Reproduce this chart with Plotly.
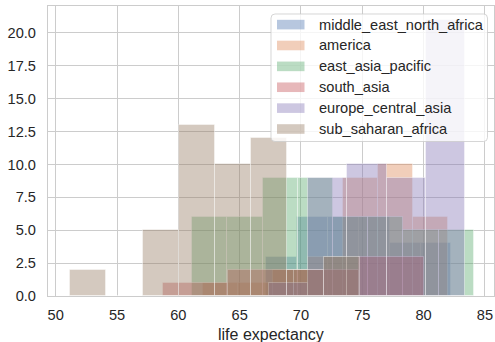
import numpy as np
import plotly.graph_objects as go

# Region names (legend order) and seaborn "deep" colours
regions = [
    "middle_east_north_africa",
    "america",
    "east_asia_pacific",
    "south_asia",
    "europe_central_asia",
    "sub_saharan_africa",
]
colors = ["#4C72B0", "#DD8452", "#55A868", "#C44E52", "#8172B3", "#937860"]

# Each region's histogram: (lowest, highest) life expectancy and the count in
# every equal-width bin between them
mena_range = (67.14, 82.27)
mena_counts = [3, 6, 6, 6, 4, 4]
america_range = (62.02, 82.0)
america_counts = [1, 1, 2, 3, 9, 10, 6]
eap_range = (61.13, 84.09)
eap_counts = [6, 6, 9, 9, 6, 6, 5, 5]
sa_range = (58.77, 80.04)
sa_counts = [1, 2, 2, 3]
eca_range = (67.36, 83.41)
eca_counts = [1, 9, 10, 9, 21]
ssa_range = (51.17, 74.81)
ssa_counts = [2, 0, 5, 13, 10, 12, 2, 3]

x_ticks = [50, 55, 60, 65, 70, 75, 80, 85]
y_ticks = [0.0, 2.5, 5.0, 7.5, 10.0, 12.5, 15.0, 17.5, 20.0]

hists = [
    (mena_range, mena_counts),
    (america_range, america_counts),
    (eap_range, eap_counts),
    (sa_range, sa_counts),
    (eca_range, eca_counts),
    (ssa_range, ssa_counts),
]

ALPHA = 0.4
TEXT = "#262626"
GRID = "#cccccc"
FONT = "Liberation Sans, Arial, sans-serif"


def rgba(hex_color, a):
    h = hex_color.lstrip("#")
    r, g, b = int(h[0:2], 16), int(h[2:4], 16), int(h[4:6], 16)
    return f"rgba({r},{g},{b},{a})"


fig = go.Figure()
for name, color, ((lo, hi), counts) in zip(regions, colors, hists):
    edges = np.linspace(lo, hi, len(counts) + 1)
    centers = (edges[:-1] + edges[1:]) / 2
    widths = np.diff(edges)
    fig.add_trace(
        go.Bar(
            x=centers,
            y=counts,
            width=widths,
            name=name,
            marker=dict(
                color=rgba(color, ALPHA),
                line=dict(color=rgba("#ffffff", ALPHA), width=1),
            ),
            showlegend=False,
            hoverinfo="skip",
        )
    )

# Plot-area geometry in pixels, used to place the legend box
W, H = 495, 342
L, R, T, B = 48, 1, 6, 46
PW, PH = W - L - R, H - T - B


def px_x(px):
    return (px - L) / PW


def px_y(py):
    return (H - B - py) / PH


shapes = []
annotations = []

# Legend frame: translucent white box with rounded corners
x0, x1 = px_x(271), px_x(487.5)
y0, y1 = px_y(141.5), px_y(14)
rx, ry = 4 / PW, 4 / PH
path = (
    f"M {x0+rx},{y1} L {x1-rx},{y1} Q {x1},{y1} {x1},{y1-ry} "
    f"L {x1},{y0+ry} Q {x1},{y0} {x1-rx},{y0} "
    f"L {x0+rx},{y0} Q {x0},{y0} {x0},{y0+ry} "
    f"L {x0},{y1-ry} Q {x0},{y1} {x0+rx},{y1} Z"
)
shapes.append(
    dict(
        type="path",
        path=path,
        xref="paper",
        yref="paper",
        fillcolor="rgba(255,255,255,0.8)",
        line=dict(color="rgba(204,204,204,0.8)", width=1),
        layer="above",
    )
)

for i, (name, color) in enumerate(zip(regions, colors)):
    cy = 24.6 + 20.88 * i
    shapes.append(
        dict(
            type="rect",
            xref="paper",
            yref="paper",
            x0=px_x(277),
            x1=px_x(304.5),
            y0=px_y(cy + 4.8),
            y1=px_y(cy - 4.8),
            fillcolor=rgba(color, ALPHA),
            line=dict(width=0),
            layer="above",
        )
    )
    annotations.append(
        dict(
            text=name,
            xref="paper",
            yref="paper",
            x=px_x(317),
            y=px_y(cy),
            xanchor="left",
            yanchor="middle",
            showarrow=False,
            font=dict(family=FONT, size=14.6, color=TEXT),
        )
    )

# x-axis title
annotations.append(
    dict(
        text="life expectancy",
        xref="paper",
        yref="paper",
        x=0.5 + (0.0 / PW),
        y=px_y(334),
        xanchor="center",
        yanchor="middle",
        showarrow=False,
        font=dict(family=FONT, size=16, color=TEXT),
    )
)

fig.update_layout(
    width=W,
    height=H,
    margin=dict(l=L, r=R, t=T, b=B),
    barmode="overlay",
    bargap=0,
    paper_bgcolor="white",
    plot_bgcolor="white",
    font=dict(family=FONT, size=14.6, color=TEXT),
    shapes=shapes,
    annotations=annotations,
    showlegend=False,
)

fig.update_xaxes(
    range=[49.37, 85.74],
    tickvals=x_ticks,
    ticktext=[str(v) for v in x_ticks],
    showgrid=True,
    gridcolor=GRID,
    gridwidth=1.2,
    zeroline=False,
    showline=True,
    linecolor=GRID,
    linewidth=1.25,
    mirror=True,
    ticks="outside",
    ticklen=5,
    tickcolor="rgba(0,0,0,0)",
    tickfont=dict(family=FONT, size=14.6, color=TEXT),
)
fig.update_yaxes(
    range=[0, 22.05],
    tickvals=y_ticks,
    ticktext=[f"{v:.1f}" for v in y_ticks],
    showgrid=True,
    gridcolor=GRID,
    gridwidth=1.2,
    zeroline=False,
    showline=True,
    linecolor=GRID,
    linewidth=1.25,
    mirror=True,
    ticks="outside",
    ticklen=8,
    tickcolor="rgba(0,0,0,0)",
    tickfont=dict(family=FONT, size=14.6, color=TEXT),
)

fig.write_html("out.html")
